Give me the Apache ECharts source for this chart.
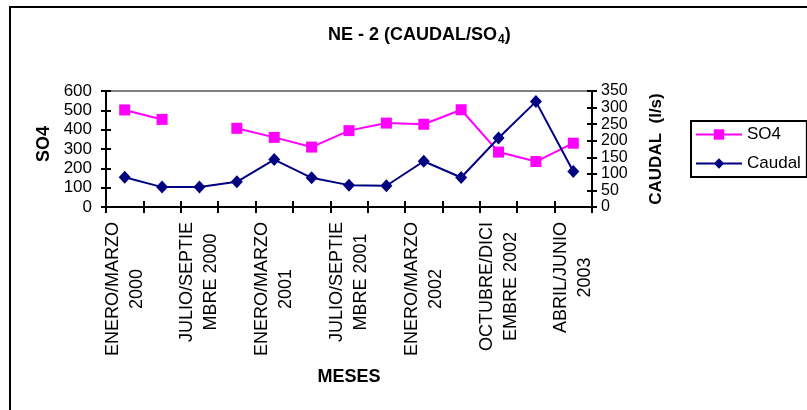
<!DOCTYPE html>
<html>
<head>
<meta charset="utf-8">
<script src="https://cdn.jsdelivr.net/npm/echarts@6/dist/echarts.min.js"></script>
<style>
html,body{margin:0;padding:0;background:#fff;}
#chart{width:807px;height:410px;}
</style>
</head>
<body>
<div id="chart"></div>
<script>
const categories = [
  'ENERO/MARZO\n2000', 'ABRIL/JUNIO\n2000', 'JULIO/SEPTIE\nMBRE 2000', 'OCTUBRE/DICI\nEMBRE 2000',
  'ENERO/MARZO\n2001', 'ABRIL/JUNIO\n2001', 'JULIO/SEPTIE\nMBRE 2001', 'OCTUBRE/DICI\nEMBRE 2001',
  'ENERO/MARZO\n2002', 'ABRIL/JUNIO\n2002', 'OCTUBRE/DICI\nEMBRE 2002', 'ENERO/MARZO\n2003',
  'ABRIL/JUNIO\n2003'
];
const so4 = [502, 453, null, 407, 360, 310, 395, 434, 428, 503, 284, 235, 330];
const caudal = [90, 60, 60, 76, 143, 88, 66, 64, 138, 89, 208, 318, 107];
const leftTicks = { min: 0, max: 600, interval: 100 };
const rightTicks = { min: 0, max: 350, interval: 50 };

const FONT = '"Liberation Sans", Arial, sans-serif';
const chart = echarts.init(document.getElementById('chart'));

const topLineColors = ['rgba(0,0,0,0)', 'rgba(0,0,0,0)', 'rgba(0,0,0,0)', 'rgba(0,0,0,0)', 'rgba(0,0,0,0)', 'rgba(0,0,0,0)', '#808080'];

chart.setOption({
  animation: false,
  backgroundColor: '#fff',
  title: {
    text: '{a|NE - 2 (CAUDAL/SO}{b|4}{a|)}',
    left: 323,
    top: 20,
    textStyle: {
      rich: {
        a: { fontFamily: FONT, fontWeight: 'bold', fontSize: 18, color: '#000' },
        b: { fontFamily: FONT, fontWeight: 'bold', fontSize: 12, color: '#000', padding: [9, 0, 0, 1] }
      }
    }
  },
  graphic: [{
    type: 'rect',
    shape: { x: 10, y: 7, width: 830, height: 430 },
    style: { fill: 'none', stroke: '#000', lineWidth: 2 },
    silent: true
  }],
  legend: {
    orient: 'vertical',
    left: 691,
    top: 121,
    padding: [5, 6, 5, 4],
    itemGap: 12,
    itemWidth: 46,
    itemHeight: 13,
    borderColor: '#000',
    borderWidth: 2,
    textStyle: { fontFamily: FONT, fontSize: 17, color: '#000' },
    data: ['SO4', 'Caudal']
  },
  grid: { left: 106, right: 215, top: 91, bottom: 203, containLabel: false },
  xAxis: [{
    type: 'category',
    data: categories,
    boundaryGap: true,
    name: 'MESES',
    nameLocation: 'middle',
    nameGap: 161,
    nameTextStyle: { fontFamily: FONT, fontWeight: 'bold', fontSize: 18, color: '#000' },
    axisLine: { lineStyle: { color: '#000', width: 2 } },
    axisTick: { show: true, length: 6, interval: 0, lineStyle: { color: '#000', width: 2 } },
    axisLabel: {
      interval: 1,
      rotate: 90,
      margin: 15,
      color: '#000',
      formatter: function (v) { return v.split('\n').map(function (s) { return '{c|' + s + '}'; }).join('\n'); },
      rich: { c: { align: 'center', fontFamily: FONT, fontSize: 18, lineHeight: 24, color: '#000' } }
    },
    splitLine: { show: false }
  }, {
    type: 'category',
    data: categories,
    boundaryGap: true,
    position: 'bottom',
    axisLine: { show: false },
    axisTick: { show: true, inside: true, length: 6, interval: 0, lineStyle: { color: '#000', width: 2 } },
    axisLabel: { show: false },
    splitLine: { show: false }
  }],
  yAxis: [{
    type: 'value',
    min: leftTicks.min, max: leftTicks.max, interval: leftTicks.interval,
    position: 'left',
    name: 'SO4',
    nameLocation: 'middle',
    nameRotate: 90,
    nameGap: 53,
    nameTextStyle: { fontFamily: FONT, fontWeight: 'bold', fontSize: 18, color: '#000', padding: [0, 0, 0, 10] },
    axisLine: { show: true, lineStyle: { color: '#000', width: 2 } },
    axisTick: { show: true, length: 5, lineStyle: { color: '#000', width: 2 } },
    axisLabel: { margin: 14, fontFamily: FONT, fontSize: 17, color: '#000', showMinLabel: true, showMaxLabel: true },
    splitLine: { show: true, lineStyle: { color: topLineColors, width: 2 } }
  }, {
    type: 'value',
    min: rightTicks.min, max: rightTicks.max, interval: rightTicks.interval,
    position: 'right',
    name: 'CAUDAL  (l/s)',
    nameLocation: 'middle',
    nameRotate: 90,
    nameGap: 56,
    nameTextStyle: { fontFamily: FONT, fontWeight: 'bold', fontSize: 17, color: '#000' },
    axisLine: { show: true, lineStyle: { color: '#000', width: 2 } },
    axisTick: { show: true, length: 5, lineStyle: { color: '#000', width: 2 } },
    axisLabel: { margin: 9, fontFamily: FONT, fontSize: 16, color: '#000', showMinLabel: true, showMaxLabel: true },
    splitLine: { show: false }
  }, {
    type: 'value',
    min: leftTicks.min, max: leftTicks.max, interval: leftTicks.interval,
    position: 'left',
    axisLine: { show: false },
    axisTick: { show: true, inside: true, length: 5, lineStyle: { color: '#000', width: 2 } },
    axisLabel: { show: false },
    splitLine: { show: false }
  }, {
    type: 'value',
    min: rightTicks.min, max: rightTicks.max, interval: rightTicks.interval,
    position: 'right',
    axisLine: { show: false },
    axisTick: { show: true, inside: true, length: 5, lineStyle: { color: '#000', width: 2 } },
    axisLabel: { show: false },
    splitLine: { show: false }
  }],
  series: [{
    name: 'SO4',
    type: 'line',
    xAxisIndex: 0,
    yAxisIndex: 0,
    data: so4,
    connectNulls: false,
    symbol: 'rect',
    symbolSize: 11,
    itemStyle: { color: '#FF00FF' },
    lineStyle: { color: '#FF00FF', width: 2 },
    z: 3
  }, {
    name: 'Caudal',
    type: 'line',
    xAxisIndex: 0,
    yAxisIndex: 1,
    data: caudal,
    symbol: 'diamond',
    symbolSize: [12, 13],
    itemStyle: { color: '#000080' },
    lineStyle: { color: '#000080', width: 2 },
    z: 4
  }]
});
</script>
</body>
</html>
